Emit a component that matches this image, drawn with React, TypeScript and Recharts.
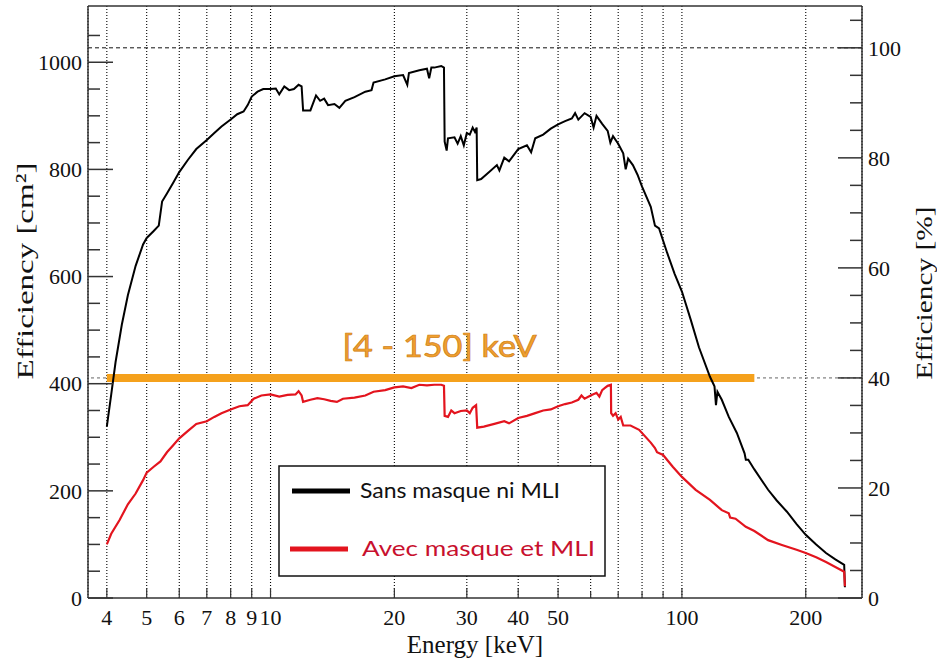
import React from 'react';
import { LineChart, Line, XAxis, YAxis, CartesianGrid, ReferenceLine, Legend } from 'recharts';

// energies in keV, efficiency in cm2
const sansEnergy = [
  4.0, 4.1, 4.2, 4.35, 4.5, 4.7, 4.9, 5.0, 5.2, 5.35, 5.45, 5.6, 5.8, 6.0, 6.3, 6.6, 7.0, 7.3, 7.6, 8.0,
  8.3, 8.6, 8.8, 9.0, 9.3, 9.6, 10.0, 10.3, 10.5, 10.8, 11.1, 11.4, 11.7, 11.9, 12.0, 12.5, 12.9, 13.2,
  13.5, 13.8, 14.3, 14.7, 15.2, 16.0, 17.0, 17.6, 17.8, 19.0, 20.0, 21.0, 21.5, 21.7, 23.0, 24.0, 24.3,
  24.6, 25.0, 26.0, 26.4, 26.5, 26.8, 27.0, 28.0, 28.5, 29.0, 29.5, 30.0, 30.5, 31.0, 31.4, 31.7, 31.8,
  32.5, 34.0, 35.5, 36.0, 37.0, 38.0, 40.0, 42.0, 43.0, 44.0, 46.0, 48.0, 50.0, 52.0, 54.0, 55.0, 56.0,
  58.0, 60.0, 61.0, 62.0, 64.0, 66.0, 67.0, 68.0, 70.0, 72.0, 73.0, 74.0, 76.0, 78.0, 80.0, 84.0, 86.0,
  88.0, 92.0, 96.0, 100, 105, 110, 117, 120, 121, 122, 125, 130, 136, 142, 143, 145, 150, 162, 170, 180,
  190, 200, 212, 224, 236, 248, 249,
];
const sansEff = [
  320, 380, 440, 510, 565, 620, 660, 672, 685, 695, 740, 755, 775, 795, 818, 838, 855, 868, 880, 893,
  903, 908, 920, 936, 945, 950, 950, 951, 940, 955, 948, 950, 958, 955, 910, 910, 938, 928,
  932, 920, 922, 915, 928, 935, 945, 948, 962, 968, 974, 976, 958, 980, 985, 988, 970,
  990, 990, 993, 990, 852, 835, 858, 860, 848, 862, 845, 868, 865, 878, 870, 878, 780,
  782, 795, 808, 798, 822, 815, 838, 845, 832, 858, 865, 876, 884, 890, 895, 905, 893,
  905, 898, 878, 900, 885, 872, 850, 862, 848, 830, 800, 820, 808, 790, 768, 730, 695,
  690, 645, 605, 572, 520, 468, 413, 395, 360, 385, 370, 338, 308, 270, 258, 258, 240, 202, 182, 161,
  138, 118, 100, 84, 72, 62, 20,
];

const avecEnergy = [
  4.0, 4.1, 4.3, 4.5, 4.7, 4.9, 5.0, 5.2, 5.4, 5.6, 5.8, 6.0, 6.3, 6.6, 7.0, 7.3, 7.6, 8.0, 8.4, 8.8,
  9.1, 9.5, 10.0, 10.5, 11.0, 11.5, 11.7, 11.9, 12.0, 12.5, 13.0, 13.5, 14.0, 14.5, 15.0, 16.0, 17.0,
  17.8, 19.0, 20.0, 21.0, 22.0, 23.0, 24.0, 25.0, 26.0, 26.4, 26.5, 27.0, 27.5, 28.0, 29.0, 30.0, 30.5,
  31.0, 31.6, 31.8, 33.0, 35.0, 37.0, 38.0, 40.0, 42.0, 44.0, 46.0, 48.0, 50.0, 52.0, 54.0, 56.0, 57.0,
  58.0, 60.0, 62.0, 63.0, 64.0, 65.0, 66.0, 67.2, 67.3, 68.0, 69.0, 70.0, 71.0, 72.0, 75.0, 78.7, 84.0,
  86.0, 87.0, 90.0, 95.0, 100, 108, 117, 125, 130, 131, 135, 143, 150, 162, 175, 190, 200, 212, 224, 236,
  248, 249,
];
const avecEff = [
  100, 120, 146, 175, 195, 220, 234, 245, 255, 272, 285, 298, 312, 325, 330, 338, 345, 352, 358, 360,
  372, 378, 380, 376, 379, 380, 386, 378, 366, 370, 373, 371, 368, 366, 372, 374, 378,
  385, 388, 393, 395, 392, 398, 397, 398, 398, 396, 340, 338, 350, 345, 349, 350, 345,
  355, 360, 318, 320, 325, 330, 326, 336, 340, 345, 350, 352, 358, 362, 365, 370, 378,
  372, 378, 383, 376, 388, 392, 396, 398, 345, 340, 345, 333, 338, 322, 322, 314, 290,
  280, 272, 267, 245, 226, 202, 183, 164, 158, 150, 148, 133, 125, 108, 99, 90, 84, 76, 67, 58,
  49, 22,
];

const seriesNames = ['Sans masque ni MLI', 'Avec masque et MLI'];

const xTicks = [4, 5, 6, 7, 8, 9, 10, 20, 30, 40, 50, 60, 70, 80, 90, 100, 200];
const xLabels = [4, 5, 6, 7, 8, 9, 10, 20, 30, 40, 50, 100, 200];
const cmTicks = [0, 50, 100, 150, 200, 250, 300, 350, 400, 450, 500, 550, 600, 650, 700, 750, 800, 850, 900, 950, 1000, 1050];
const cmLabels = [0, 200, 400, 600, 800, 1000];
const pctTicks = [0, 5, 10, 15, 20, 25, 30, 35, 40, 45, 50, 55, 60, 65, 70, 75, 80, 85, 90, 95, 100, 105];
const pctLabels = [0, 20, 40, 60, 80, 100];
const bandRange = [4, 150];
const bandLevel = 40;
const fullLevel = 100;

const sansData = sansEnergy.map((e, i) => ({ e, v: sansEff[i] }));
const avecData = avecEnergy.map((e, i) => ({ e, v: avecEff[i] }));

const serif = '"Liberation Serif", "Times New Roman", serif';
const sans = 'Lato, "DejaVu Sans", sans-serif';
const axisColor = '#333';

const XTick = ({ x, y, payload }: any) => {
  const labeled = xLabels.includes(payload.value);
  return (
    <g>
      <line x1={x} x2={x} y1={y} y2={y - (labeled ? 10 : 6)} stroke={axisColor} strokeWidth={1.2} />
      {labeled && (
        <text x={x} y={y + 27} textAnchor="middle" fontFamily={serif} fontSize={22} fill="#111">
          {payload.value}
        </text>
      )}
    </g>
  );
};

const LeftTick = ({ x, y, payload }: any) => {
  const labeled = cmLabels.includes(payload.value);
  return (
    <g>
      <line x1={x} x2={x + (labeled ? 25 : 12)} y1={y} y2={y} stroke={axisColor} strokeWidth={1.5} />
      {labeled && (
        <text x={x - 6} y={y} dy="0.35em" textAnchor="end" fontFamily={serif} fontSize={22} fill="#111">
          {payload.value}
        </text>
      )}
    </g>
  );
};

const RightTick = ({ x, y, payload }: any) => {
  const labeled = pctLabels.includes(payload.value);
  return (
    <g>
      <line x1={x} x2={x - (labeled ? 24 : 12)} y1={y} y2={y} stroke={axisColor} strokeWidth={1.5} />
      {labeled && (
        <text x={x + 6} y={y} dy="0.35em" textAnchor="start" fontFamily={serif} fontSize={22} fill="#111">
          {payload.value}
        </text>
      )}
    </g>
  );
};

const LegendBox = ({ payload }: any) => {
  const rows = [
    { lineX: 14, textX: 82, y: 26, width: 200, text: '#111' },
    { lineX: 12, textX: 84, y: 84, width: 233, text: '#c8102e' },
  ];
  const items = [...(payload || [])].sort(
    (a: any, b: any) => seriesNames.indexOf(a.value) - seriesNames.indexOf(b.value)
  );
  return (
    <svg width={328} height={112} style={{ display: 'block' }}>
      <rect x={1} y={1} width={326} height={110} fill="#fff" stroke="#111" strokeWidth={1.5} />
      {items.map((entry: any, i: number) => {
        const r = rows[i];
        if (!r) return null;
        return (
          <g key={entry.value}>
            <line x1={r.lineX} x2={r.lineX + 58} y1={r.y} y2={r.y} stroke={entry.color} strokeWidth={5} />
            <text
              x={r.textX}
              y={r.y + 7}
              fontFamily={sans}
              fontSize={22}
              fill={r.text}
              textLength={r.width}
              lengthAdjust="spacingAndGlyphs"
            >
              {entry.value}
            </text>
          </g>
        );
      })}
    </svg>
  );
};

export default function App() {
  return (
    <div style={{ position: 'absolute', left: 0, top: 0, width: 937, height: 663, background: '#fff' }}>
      <LineChart width={937} height={663} margin={{ top: 6, right: 0, bottom: 0, left: 0 }}>
        <CartesianGrid horizontal={false} yAxisId="left" stroke="#000" strokeWidth={1.1} strokeDasharray="1 2" />
        <XAxis
          dataKey="e"
          type="number"
          scale="log"
          domain={[3.6, 274]}
          allowDataOverflow
          ticks={xTicks}
          interval={0}
          height={65}
          tickSize={0}
          tickMargin={0}
          tickLine={false}
          tick={(p: any) => <XTick {...p} />}
          axisLine={{ stroke: axisColor, strokeWidth: 1.5 }}
          label={{
            content: ({ viewBox }: any) => (
              <text
                x={viewBox.x + viewBox.width / 2}
                y={viewBox.y + 55}
                textAnchor="middle"
                fontFamily={serif}
                fontSize={25}
                fill="#111"
              >
                Energy [keV]
              </text>
            ),
          }}
        />
        <YAxis
          yAxisId="left"
          type="number"
          domain={[0, 1105]}
          allowDataOverflow
          ticks={cmTicks}
          interval={0}
          width={88}
          tickSize={0}
          tickMargin={0}
          tickLine={false}
          tick={(p: any) => <LeftTick {...p} />}
          axisLine={{ stroke: axisColor, strokeWidth: 1.5 }}
          label={{
            content: ({ viewBox }: any) => {
              const cx = viewBox.x + 25;
              const cy = viewBox.y + 265;
              return (
                <text
                  x={cx}
                  y={cy}
                  dy="0.35em"
                  textAnchor="middle"
                  transform={`rotate(-90, ${cx}, ${cy})`}
                  fontFamily={serif}
                  fontSize={24}
                  fill="#111"
                  textLength={217}
                  lengthAdjust="spacingAndGlyphs"
                >
                  Efficiency [cm²]
                </text>
              );
            },
          }}
        />
        <YAxis
          yAxisId="right"
          orientation="right"
          type="number"
          domain={[0, 107.6]}
          allowDataOverflow
          ticks={pctTicks}
          interval={0}
          width={75}
          tickSize={0}
          tickMargin={0}
          tickLine={false}
          tick={(p: any) => <RightTick {...p} />}
          axisLine={{ stroke: axisColor, strokeWidth: 1.5 }}
          label={{
            content: ({ viewBox }: any) => {
              const cx = viewBox.x + 62;
              const cy = viewBox.y + 287;
              return (
                <text
                  x={cx}
                  y={cy}
                  dy="0.35em"
                  textAnchor="middle"
                  transform={`rotate(-90, ${cx}, ${cy})`}
                  fontFamily={serif}
                  fontSize={24}
                  fill="#111"
                  textLength={173}
                  lengthAdjust="spacingAndGlyphs"
                >
                  Efficiency [%]
                </text>
              );
            },
          }}
        />
        <ReferenceLine yAxisId="left" y={1105} stroke={axisColor} strokeWidth={1.5} />
        <ReferenceLine yAxisId="right" y={fullLevel} stroke="#111" strokeDasharray="4 3" />
        <ReferenceLine yAxisId="right" y={bandLevel} stroke="#666" strokeDasharray="3 3" />
        <ReferenceLine
          yAxisId="right"
          segment={[
            { x: bandRange[0], y: bandLevel },
            { x: bandRange[1], y: bandLevel },
          ]}
          stroke="#f5a11c"
          strokeWidth={8}
          label={{
            content: ({ viewBox }: any) => (
              <text
                x={viewBox.x + viewBox.width / 2 + 9}
                y={viewBox.y - 21}
                textAnchor="middle"
                fontFamily={sans}
                fontSize={30}
                fill="#f0a030"
                stroke="#cf7f16"
                strokeWidth={0.7}
                textLength={194}
                lengthAdjust="spacingAndGlyphs"
              >
                {`[${bandRange[0]} - ${bandRange[1]}] keV`}
              </text>
            ),
          }}
        />
        <Line
          yAxisId="left"
          data={sansData}
          dataKey="v"
          name={seriesNames[0]}
          type="linear"
          stroke="#000"
          strokeWidth={2}
          dot={false}
          activeDot={false}
          isAnimationActive={false}
        />
        <Line
          yAxisId="left"
          data={avecData}
          dataKey="v"
          name={seriesNames[1]}
          type="linear"
          stroke="#e3141e"
          strokeWidth={2.2}
          dot={false}
          activeDot={false}
          isAnimationActive={false}
        />
        <Legend
          layout="vertical"
          align="center"
          verticalAlign="middle"
          content={(p: any) => <LegendBox {...p} />}
          wrapperStyle={{ left: 278, top: 465, width: 328, height: 112 }}
        />
      </LineChart>
    </div>
  );
}
